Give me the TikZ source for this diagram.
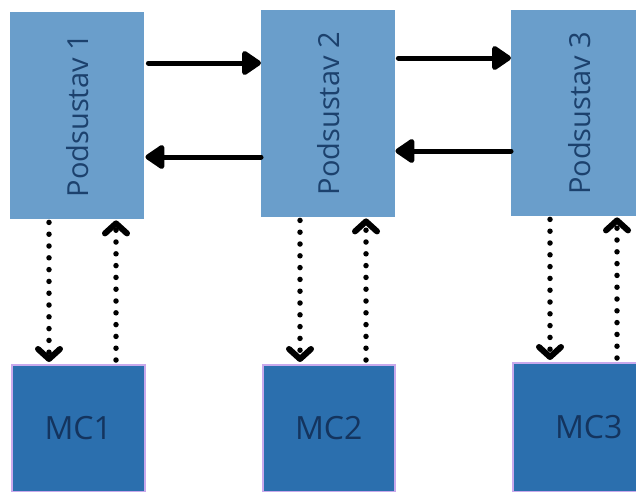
\documentclass[tikz,border=0pt]{standalone}
\usepackage{fontspec}
\usepackage{graphicx}
\setmainfont{Open Sans}
\usetikzlibrary{arrows.meta}
\definecolor{subfill}{HTML}{6A9ECB}
\definecolor{mcfill}{HTML}{2B6FAE}
\definecolor{mcedge}{HTML}{C9A9EC}
\definecolor{subtxt}{HTML}{1C416D}
\definecolor{mctxt}{HTML}{14345E}
\begin{document}
\begin{tikzpicture}[x=1pt,y=-1pt,
  subbox/.style={rectangle, fill=subfill, inner sep=0pt, anchor=north west,
    minimum width=134pt, minimum height=207pt, text=subtxt,
    font=\fontsize{29}{29}\selectfont},
  mcbox/.style={rectangle, fill=mcfill, draw=mcedge, line width=1.5pt, inner sep=0pt,
    anchor=north west, minimum width=133pt, minimum height=127pt, text=mctxt,
    font=\fontsize{32}{32}\selectfont},
  bigarrow/.style={line width=5pt, line cap=round,
    -{Triangle[length=21pt,width=27pt,round]}},
  dotarrow/.style={line width=5.5pt, line cap=round, dash pattern=on 0pt off 11.8pt,
    -{Straight Barb[length=10pt,width=22pt,line width=6pt,round]}}
]
\useasboundingbox (0,0) rectangle (636,491);
\clip (0,0) rectangle (636,491);
\fill[white] (0,0) rectangle (636,491);

\node[subbox] (p1) at (10,12) {\rotatebox{90}{Podsustav 1}};
\node[subbox] (p2) at (261,10) {\rotatebox{90}{Podsustav 2}};
\node[subbox, minimum width=136pt, minimum height=206pt] (p3) at (511,10) {\rotatebox{90}{Podsustav 3}};

\node[mcbox] (m1) at (11,364) {MC1};
\node[mcbox, minimum width=132pt] (m2) at (262,364) {MC2};
\node[mcbox, minimum width=152pt, minimum height=129pt] (m3) at (512,362) {MC3};

% horizontal connectors
\draw[bigarrow] ([xshift=4pt,yshift=-51pt]p1.north east) -- ([yshift=-53pt]p2.north west);
\draw[bigarrow] ([yshift=-147pt]p2.north west) -- ([xshift=1pt,yshift=-145pt]p1.north east);
\draw[bigarrow] ([xshift=3pt,yshift=-48pt]p2.north east) -- ([yshift=-48pt]p3.north west);
\draw[bigarrow] ([yshift=-141pt]p3.north west) -- ([yshift=-141pt]p2.north east);

% dotted connectors
\draw[dotarrow] ([xshift=39pt,yshift=-3pt]p1.south west) -- ([xshift=38pt,yshift=2pt]m1.north west);
\draw[dotarrow] ([xshift=105pt,yshift=4pt]m1.north west) -- ([xshift=106pt,yshift=-1pt]p1.south west);
\draw[dotarrow] ([xshift=39pt,yshift=-3pt]p2.south west) -- ([xshift=38pt,yshift=2pt]m2.north west);
\draw[dotarrow] ([xshift=104pt,yshift=4pt]m2.north west) -- ([xshift=105pt,yshift=-1pt]p2.south west);
\draw[dotarrow] ([xshift=39pt,yshift=-3pt]p3.south west) -- ([xshift=38pt,yshift=2pt]m3.north west);
\draw[dotarrow] ([xshift=105pt,yshift=4pt]m3.north west) -- ([xshift=106pt,yshift=-1pt]p3.south west);
\end{tikzpicture}
\end{document}
